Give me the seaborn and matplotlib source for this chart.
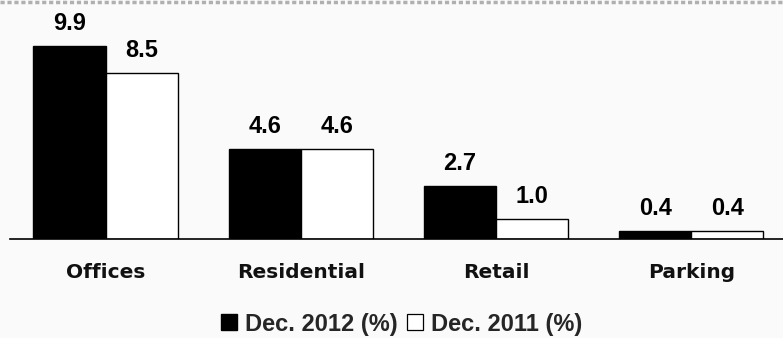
import matplotlib
matplotlib.use("Agg")
import matplotlib.pyplot as plt
from matplotlib.lines import Line2D
import seaborn as sns
import pandas as pd

categories = ["Offices", "Residential", "Retail", "Parking"]
dec_2012 = [9.9, 4.6, 2.7, 0.4]
dec_2011 = [8.5, 4.6, 1.0, 0.4]
series_names = ["Dec. 2012 (%)", "Dec. 2011 (%)"]

df = pd.DataFrame({
    "category": categories * 2,
    "value": dec_2012 + dec_2011,
    "series": [series_names[0]] * 4 + [series_names[1]] * 4,
})

sns.set_theme(style="white")
plt.rcParams["font.family"] = ["Liberation Sans", "DejaVu Sans"]

bg = "#fafafa"
fig = plt.figure(figsize=(7.83, 3.38), dpi=100, facecolor=bg)
ax = fig.add_axes([10 / 783, 99 / 338, 773 / 783, 205 / 338])
ax.set_facecolor(bg)

sns.barplot(data=df, x="category", y="value", hue="series",
            palette=["black", "white"], width=0.74, ax=ax,
            edgecolor="black", linewidth=1.0, legend=False, saturation=1)

for container in ax.containers:
    ax.bar_label(container, fmt="%.1f", padding=8, fontsize=17,
                 fontweight="bold", color="black")

ax.set_xlim(-0.49, 3.47)
ax.set_ylim(0, 10.5)
ax.set_xlabel("")
ax.set_ylabel("")
ax.set_yticks([])
ax.tick_params(axis="x", length=0, pad=17)
for lbl in ax.get_xticklabels():
    lbl.set_fontfamily("DejaVu Sans")
    lbl.set_fontweight("bold")
    lbl.set_fontsize(14.5)
    lbl.set_color("#111111")
for side in ["top", "right", "left"]:
    ax.spines[side].set_visible(False)
ax.spines["bottom"].set_color("black")
ax.spines["bottom"].set_linewidth(1.2)

# dotted border along the top
fig.add_artist(Line2D([0, 1], [1 - 2 / 338, 1 - 2 / 338], transform=fig.transFigure,
                      color="#b0b0b0", linewidth=2.5, linestyle=(0, (1.2, 0.8))))

handles = [
    Line2D([], [], marker="s", linestyle="none", markersize=11.5,
           markerfacecolor="black", markeredgecolor="black"),
    Line2D([], [], marker="s", linestyle="none", markersize=11,
           markerfacecolor="white", markeredgecolor="black", markeredgewidth=0.9),
]
fig.legend(handles, series_names, loc="center", bbox_to_anchor=(400 / 783, 1 - 324 / 338),
           ncol=2, frameon=False, handlelength=1.0, handletextpad=0.17,
           columnspacing=0.25, borderpad=0, prop={"weight": "bold", "size": 17})

fig.savefig("out.png", dpi=100, facecolor=bg)
